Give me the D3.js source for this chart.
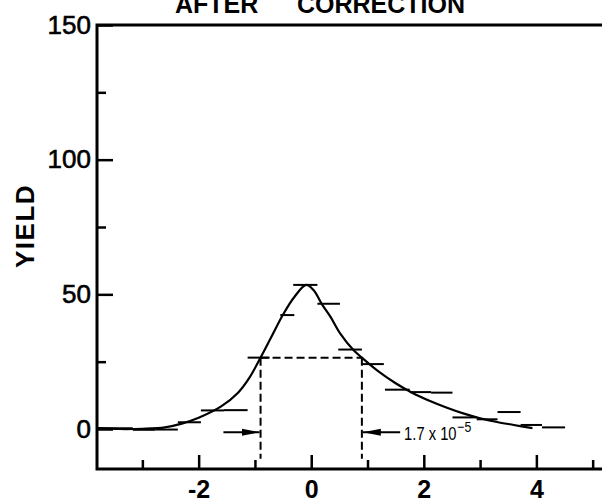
<!DOCTYPE html>
<html>
<head>
<meta charset="utf-8">
<script src="https://cdn.jsdelivr.net/npm/d3@7"></script>
<style>
  body { margin: 0; background: #fff; }
  svg { display: block; font-family: "Liberation Sans", Arial, sans-serif; }
  .tick line { stroke: #000; stroke-width: 2.5; }
  .tick text { fill: #000; }
</style>
</head>
<body>
<script>
// tick values
var xMajor = [-2, 0, 2, 4];
var xMinor = [-3, -1, 1, 3, 5];
var yMajor = [0, 50, 100, 150];
var yMinor = [25, 75, 125];

// histogram bins (left edge, right edge, yield)
var binLo = [-3.79, -3.17, -2.77, -2.37, -1.96, -1.55, -1.13, -0.55, -0.32, 0.11, 0.48, 0.90, 1.31, 1.75, 2.13, 2.51, 2.94, 3.31, 3.72, 4.10];
var binHi = [-3.17, -2.77, -2.37, -1.96, -1.55, -1.13, -0.74, -0.30, 0.11, 0.51, 0.90, 1.29, 1.75, 2.13, 2.51, 2.94, 3.31, 3.72, 4.10, 4.51];
var binYield = [0.3, -0.3, -0.2, 2.5, 6.9, 7.0, 26.5, 42.3, 53.5, 46.5, 29.5, 24.1, 14.6, 13.7, 13.5, 4.3, 3.6, 6.3, 1.5, 0.6];

// fitted curve
var curveX = [-3.79, -3.4, -3.0, -2.6, -2.3, -2.0, -1.6, -1.3, -1.1, -0.9, -0.7, -0.5, -0.3, -0.09, 0.04, 0.2, 0.34, 0.51, 0.75, 0.9, 1.2, 1.5, 1.8, 2.1, 2.4, 2.7, 3.0, 3.3, 3.6, 3.93];
var curveY = [0.3, 0.0, 0.1, 0.6, 2.0, 4.2, 8.4, 13.5, 19.0, 26.5, 34.5, 42.5, 49.0, 53.5, 51.6, 46.0, 41.7, 35.6, 29.3, 26.5, 21.3, 17.0, 13.4, 10.5, 8.0, 5.8, 4.0, 2.6, 1.5, 0.3];

// half maximum markers
var halfMax = 26.5;
var fwhmLo = -0.9;
var fwhmHi = 0.9;
var dashBottom = -11;
var arrowY = -1.2;
var arrowTailLo = -1.56;
var arrowTailHi = 1.58;

var width = 602;
var height = 504;

var svg = d3
  .select("body")
  .append("svg")
  .attr("width", width)
  .attr("height", height);

var x = d3.scaleLinear().domain([-3.806, 5.166]).range([97, 602]);
var y = d3.scaleLinear().domain([-14.85, 150]).range([469, 25]);

svg
  .append("defs")
  .append("marker")
  .attr("id", "head")
  .attr("markerUnits", "userSpaceOnUse")
  .attr("viewBox", "0 0 18 9")
  .attr("refX", 18)
  .attr("refY", 4.5)
  .attr("markerWidth", 18)
  .attr("markerHeight", 9)
  .attr("orient", "auto")
  .append("path")
  .attr("d", "M0,1 L18,4.5 L0,8 Z")
  .attr("fill", "#000");

// title, cut off at the top
svg
  .append("text")
  .attr("x", 175)
  .attr("y", 13)
  .attr("font-size", 25)
  .attr("font-weight", "bold")
  .text("AFTER");
svg
  .append("text")
  .attr("x", 297)
  .attr("y", 13)
  .attr("font-size", 25)
  .attr("font-weight", "bold")
  .text("CORRECTION");

svg
  .append("text")
  .attr("transform", "translate(34,226) rotate(-90)")
  .attr("text-anchor", "middle")
  .attr("font-size", 26)
  .attr("font-weight", "bold")
  .attr("letter-spacing", 1.5)
  .text("YIELD");

// axes
var xAxisMajor = d3
  .axisBottom(x)
  .tickValues(xMajor)
  .tickSize(-14)
  .tickPadding(10)
  .tickFormat(function(d) {
    return d < 0 ? "-" + Math.abs(d) : d;
  });
var xAxisMinor = d3.axisBottom(x).tickValues(xMinor).tickSize(-9).tickFormat("");

var gx = svg
  .append("g")
  .attr("transform", "translate(0," + y.range()[0] + ")")
  .call(xAxisMajor);
gx.selectAll("text").attr("font-size", 25).attr("font-weight", "bold").attr("dy", "0.75em");
svg
  .append("g")
  .attr("transform", "translate(0," + y.range()[0] + ")")
  .call(xAxisMinor);

var yAxisMajor = d3.axisLeft(y).tickValues(yMajor).tickSize(-16).tickPadding(6);
var yAxisMinor = d3.axisLeft(y).tickValues(yMinor).tickSize(-9).tickFormat("");

var gy = svg
  .append("g")
  .attr("transform", "translate(" + x.range()[0] + ",0)")
  .call(yAxisMajor);
gy.selectAll("text")
  .attr("font-size", 26)
  .attr("stroke", "#000")
  .attr("stroke-width", 0.6);
svg
  .append("g")
  .attr("transform", "translate(" + x.range()[0] + ",0)")
  .call(yAxisMinor);

svg.selectAll(".domain").remove();

// frame: left, bottom and top lines
svg
  .append("path")
  .attr(
    "d",
    "M" + x.range()[1] + "," + y.range()[1] +
      "H" + x.range()[0] +
      "V" + y.range()[0] +
      "H" + x.range()[1]
  )
  .attr("fill", "none")
  .attr("stroke", "#000")
  .attr("stroke-width", 3);

// histogram bars
svg
  .append("g")
  .selectAll("line")
  .data(binYield)
  .enter()
  .append("line")
  .attr("x1", function(d, i) {
    return x(binLo[i]);
  })
  .attr("x2", function(d, i) {
    return x(binHi[i]);
  })
  .attr("y1", function(d) {
    return y(d);
  })
  .attr("y2", function(d) {
    return y(d);
  })
  .attr("stroke", "#000")
  .attr("stroke-width", 2);

// curve
var line = d3
  .line()
  .x(function(d, i) {
    return x(curveX[i]);
  })
  .y(function(d) {
    return y(d);
  })
  .curve(d3.curveCatmullRom.alpha(0.5));

svg
  .append("path")
  .datum(curveY)
  .attr("d", line)
  .attr("fill", "none")
  .attr("stroke", "#000")
  .attr("stroke-width", 2.2);

// half maximum dashed lines
var dash = svg
  .append("g")
  .attr("stroke", "#000")
  .attr("stroke-width", 2)
  .attr("stroke-dasharray", "8,4")
  .attr("fill", "none");
dash
  .append("line")
  .attr("x1", x(fwhmLo))
  .attr("x2", x(fwhmHi))
  .attr("y1", y(halfMax))
  .attr("y2", y(halfMax));
[fwhmLo, fwhmHi].forEach(function(v) {
  dash
    .append("line")
    .attr("x1", x(v))
    .attr("x2", x(v))
    .attr("y1", y(halfMax))
    .attr("y2", y(dashBottom));
});

// arrows
svg
  .append("line")
  .attr("x1", x(arrowTailLo))
  .attr("x2", x(fwhmLo) - 1)
  .attr("y1", y(arrowY))
  .attr("y2", y(arrowY))
  .attr("stroke", "#000")
  .attr("stroke-width", 2)
  .attr("marker-end", "url(#head)");
svg
  .append("line")
  .attr("x1", x(arrowTailHi))
  .attr("x2", x(fwhmHi) + 1)
  .attr("y1", y(arrowY))
  .attr("y2", y(arrowY))
  .attr("stroke", "#000")
  .attr("stroke-width", 2)
  .attr("marker-end", "url(#head)");

var note = svg
  .append("text")
  .attr("x", x(1.65))
  .attr("y", y(-4.1))
  .attr("font-size", 18)
  .attr("transform", "translate(" + x(1.65) * 0.18 + ",0) scale(0.82,1)")
  .text("1.7 x 10");
note.append("tspan").attr("dx", 1).attr("dy", -8).attr("font-size", 15).text("\u22125");
</script>
</body>
</html>
